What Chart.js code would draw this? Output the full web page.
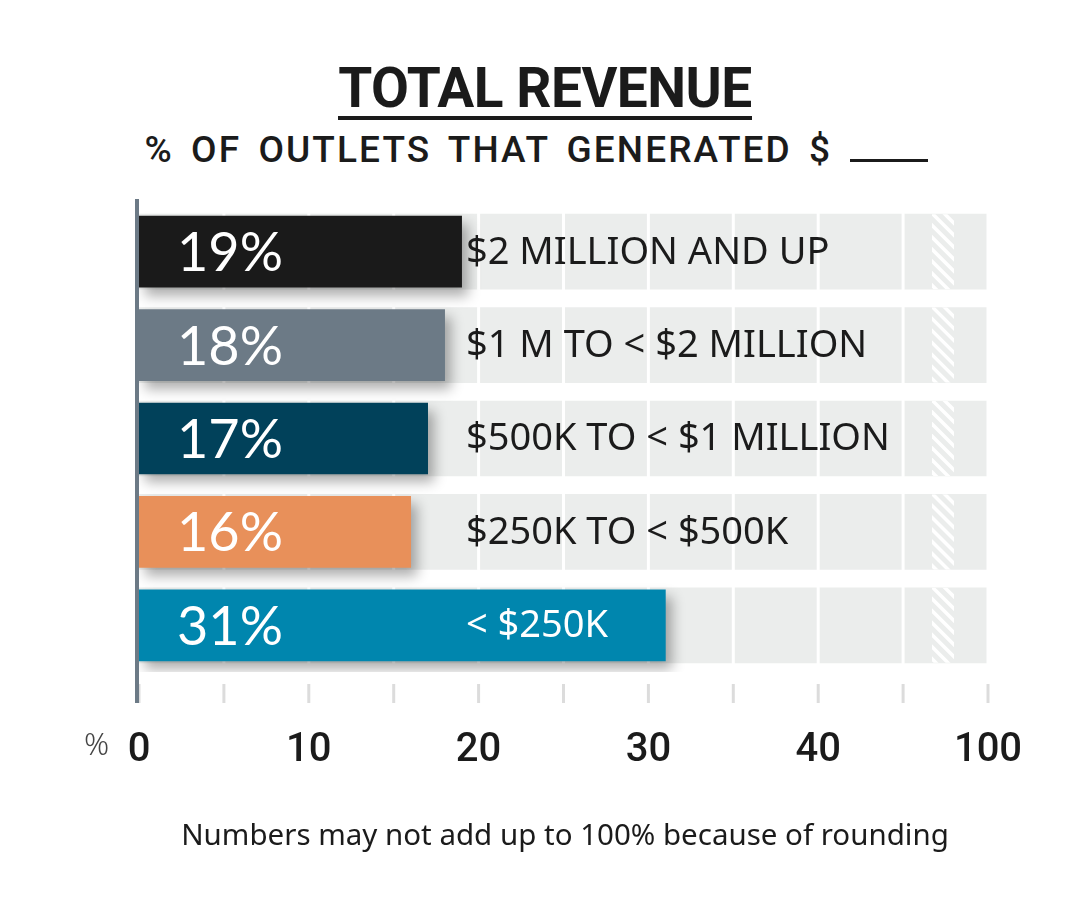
<!DOCTYPE html>
<html>
<head>
<meta charset="utf-8">
<script src="https://cdn.jsdelivr.net/npm/chart.js@4/dist/chart.umd.min.js"></script>
<style>
    body { margin: 0; background: #fff; }
    #wrap { position: relative; width: 1090px; height: 920px; overflow: hidden; }
    #chart { position: absolute; left: 0; top: 0; }
    .title {
        position: absolute; left: 0; width: 1090px; top: 56px; text-align: center;
        font-family: Roboto, sans-serif; font-weight: 700; font-size: 55px; color: #1b1b1b;
        letter-spacing: -0.5px;
    }
    .title span { border-bottom: 4px solid #1b1b1b; line-height: 56px; display: inline-block; }
    .subtitle {
        position: absolute; left: -9px; width: 1090px; top: 128px; text-align: center;
        font-family: Roboto, sans-serif; font-weight: 500; font-size: 37px; color: #1b1b1b;
        letter-spacing: 2.1px; word-spacing: 6px;
    }
    .blank { display: inline-block; width: 78px; border-bottom: 3px solid #1b1b1b; height: 30px; vertical-align: baseline; }
    .note {
        position: absolute; left: 20px; width: 1090px; top: 813px; text-align: center;
        font-family: "Noto Sans", sans-serif; font-size: 29.5px; color: #1b1b1b;
    }
    .pct {
        position: absolute; left: 84px; top: 722px;
        font-family: "Noto Sans", sans-serif; font-weight: 300; font-size: 31px; color: #444;
    }
</style>
</head>
<body>
<div id="wrap">
    <div class="title"><span>TOTAL REVENUE</span></div>
    <div class="subtitle">% OF OUTLETS THAT GENERATED $ <span class="blank"></span></div>
    <canvas id="chart" width="1090" height="920"></canvas>
    <div class="pct">%</div>
    <div class="note">Numbers may not add up to 100% because of rounding</div>
</div>
<script>
// ===== Data =====
const categories = ['$2 MILLION AND UP', '$1 M TO < $2 MILLION', '$500K TO < $1 MILLION', '$250K TO < $500K', '< $250K'];
const shares = [19, 18, 17, 16, 31];
const barColors = ['#1a1a1a', '#6c7a86', '#01415a', '#e8905a', '#0086ae'];
const labelColors = ['#1b1b1b', '#1b1b1b', '#1b1b1b', '#1b1b1b', '#ffffff'];
const trackEnd = [50, 50, 50, 50, 50];   // axis is broken after 45, last tick reads 100
const tickValues = [0, 5, 10, 15, 20, 25, 30, 35, 40, 45, 50];
const tickLabels = { 0: '0', 10: '10', 20: '20', 30: '30', 40: '40', 50: '100' };

// ===== Custom drawing =====
const decorPlugin = {
    id: 'decor',
    beforeDatasetDraw(chart, args) {
        // soft drop shadow under the value bars
        if (args.index === 1) {
            const ctx = chart.ctx;
            ctx.save();
            ctx.shadowColor = 'rgba(0, 0, 0, 0.32)';
            ctx.shadowBlur = 12;
            ctx.shadowOffsetX = 6;
            ctx.shadowOffsetY = 8;
        }
    },
    afterDatasetDraw(chart, args) {
        const { ctx, chartArea } = chart;
        const x = chart.scales.x;
        if (args.index === 0) {
            // white grid lines over the tracks
            ctx.save();
            ctx.strokeStyle = '#ffffff';
            ctx.lineWidth = 3;
            tickValues.forEach(v => {
                if (v === 0) return;
                const px = x.getPixelForValue(v);
                ctx.beginPath();
                ctx.moveTo(px, chartArea.top);
                ctx.lineTo(px, chartArea.bottom);
                ctx.stroke();
            });
            // hatch for the axis break
            const h0 = x.getPixelForValue(46.7);
            const h1 = x.getPixelForValue(48);
            args.meta.data.forEach(bar => {
                const top = bar.y - bar.height / 2;
                ctx.save();
                ctx.beginPath();
                ctx.rect(h0, top, h1 - h0, bar.height);
                ctx.clip();
                ctx.strokeStyle = '#ffffff';
                ctx.lineWidth = 3.5;
                for (let y = top - 30; y < top + bar.height + 10; y += 12) {
                    ctx.beginPath();
                    ctx.moveTo(h0 - 5, y);
                    ctx.lineTo(h1 + 5, y + (h1 - h0 + 10));
                    ctx.stroke();
                }
                ctx.restore();
            });
            ctx.restore();
        }
        if (args.index === 1) {
            ctx.restore();
        }
    },
    afterDatasetsDraw(chart) {
        const { ctx, chartArea } = chart;
        const x = chart.scales.x;
        const meta = chart.getDatasetMeta(1);
        const x0 = x.getPixelForValue(0);

        ctx.save();
        ctx.textBaseline = 'middle';
        meta.data.forEach((bar, i) => {
            ctx.fillStyle = '#ffffff';
            ctx.font = '400 54px Lato, "Noto Sans", sans-serif';
            ctx.fillText(shares[i] + '%', x0 + 38, bar.y + 2);
            ctx.fillStyle = labelColors[i];
            ctx.font = '400 38px "Noto Sans", sans-serif';
            ctx.fillText(categories[i], x0 + 327, bar.y + 1);
        });

        // tick marks below the chart
        ctx.strokeStyle = '#dcdcdc';
        ctx.lineWidth = 3;
        tickValues.forEach(v => {
            const px = x.getPixelForValue(v);
            ctx.beginPath();
            ctx.moveTo(px, chartArea.bottom + 12);
            ctx.lineTo(px, chartArea.bottom + 31);
            ctx.stroke();
        });

        // vertical axis line
        ctx.strokeStyle = '#6c7a86';
        ctx.lineWidth = 4;
        ctx.beginPath();
        ctx.moveTo(x0 - 2, chartArea.top - 6);
        ctx.lineTo(x0 - 2, chartArea.bottom + 31);
        ctx.stroke();
        ctx.restore();
    }
};

// ===== Chart =====
const ctx = document.getElementById('chart').getContext('2d');
const revenueChart = new Chart(ctx, {
    type: 'bar',
    data: {
        labels: categories,
        datasets: [{
            label: 'track',
            data: trackEnd,
            backgroundColor: '#ebedec',
            barThickness: 75,
            grouped: false,
            order: 2
        }, {
            label: '% of outlets',
            data: shares,
            backgroundColor: barColors,
            barThickness: 71,
            grouped: false,
            order: 1
        }]
    },
    options: {
        indexAxis: 'y',
        responsive: false,
        animation: false,
        layout: {
            padding: { left: 139, right: 102, top: 205, bottom: 91 }
        },
        plugins: {
            legend: { display: false },
            tooltip: { enabled: false }
        },
        scales: {
            x: {
                min: 0,
                max: 50,
                afterBuildTicks: axis => {
                    axis.ticks = tickValues.map(v => ({ value: v }));
                },
                grid: { display: false, drawTicks: false },
                border: { display: false },
                ticks: {
                    autoSkip: false,
                    maxRotation: 0,
                    padding: 54.5,
                    color: '#1b1b1b',
                    font: { family: 'Roboto, sans-serif', weight: '500', size: 40 },
                    callback: value => tickLabels[value] || ''
                }
            },
            y: {
                display: false
            }
        }
    },
    plugins: [decorPlugin]
});
</script>
</body>
</html>
